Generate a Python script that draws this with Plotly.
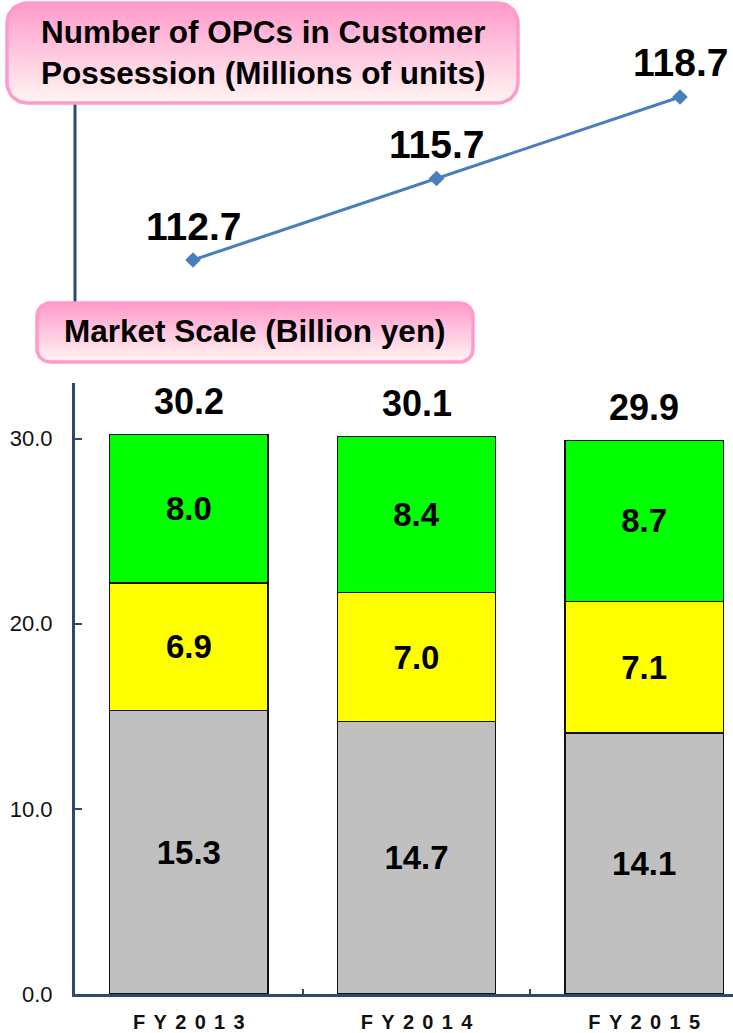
import numpy as np
import plotly.graph_objects as go

# ---- data ----
years = ["FY2013", "FY2014", "FY2015"]
opcs_millions = [112.7, 115.7, 118.7]
seg_gray = [15.3, 14.7, 14.1]
seg_yellow = [6.9, 7.0, 7.1]
seg_green = [8.0, 8.4, 8.7]
y_ticks = [0, 10, 20, 30]

W, H = 733, 1033
FONT = "Liberation Sans, Arial, sans-serif"
NAVY = "#2B4A73"


def px(x):
    return x / W


def py(y):
    return 1 - y / H


def rounded_rect(x0, y0, x1, y1, r, n=14):
    """Closed outline of a rounded rectangle in pixel space (y measured down)."""
    xs, ys = [], []
    corners = [
        (x1 - r, y0 + r, -np.pi / 2, 0),          # top-right
        (x1 - r, y1 - r, 0, np.pi / 2),           # bottom-right
        (x0 + r, y1 - r, np.pi / 2, np.pi),       # bottom-left
        (x0 + r, y0 + r, np.pi, 1.5 * np.pi),     # top-left
    ]
    for cx, cy, a0, a1 in corners:
        t = np.linspace(a0, a1, n)
        xs.extend(cx + r * np.cos(t))
        ys.extend(cy + r * np.sin(t))
    xs.append(xs[0])
    ys.append(ys[0])
    return xs, [H - v for v in ys]


fig = go.Figure()

# ---- pink title boxes (pixel-mapped helper axes) ----
for (x0, y0, x1, y1, r) in [(7, 3, 518, 103, 20), (37, 303, 473, 362, 13)]:
    bx, by = rounded_rect(x0, y0, x1, y1, r)
    fig.add_trace(go.Scatter(
        x=bx, y=by, mode="lines", fill="toself",
        line=dict(color="#FF9ACB", width=3.5),
        fillgradient=dict(type="vertical",
                          colorscale=[[0, "#FFF5F2"], [1, "#FF9ACB"]],
                          start=H - y1, stop=H - y0),
        hoverinfo="skip", xaxis="x3", yaxis="y3",
    ))

# ---- stacked bars: market scale ----
for vals, color in [(seg_gray, "#C0C0C0"), (seg_yellow, "#FFFF00"), (seg_green, "#00FF00")]:
    fig.add_trace(go.Bar(
        x=years, y=vals, marker=dict(color=color, line=dict(color="#111111", width=1.2)),
        width=0.695,
        text=[f"{v:.1f}" for v in vals], textposition="inside",
        insidetextanchor="middle", constraintext="none",
        textfont=dict(family=FONT, size=33, color="black", weight="bold"),
        xaxis="x", yaxis="y", hoverinfo="skip",
    ))

totals = [round(a + b + c, 1) for a, b, c in zip(seg_gray, seg_yellow, seg_green)]
for yr, t in zip(years, totals):
    fig.add_annotation(x=yr, y=t, xref="x", yref="y", text=f"{t:.1f}",
                       showarrow=False, xanchor="center", yanchor="middle", yshift=33,
                       font=dict(family=FONT, size=36, color="black", weight="bold"))

# ---- line: OPCs in customer possession ----
fig.add_trace(go.Scatter(
    x=years, y=opcs_millions, mode="lines+markers",
    line=dict(color="#4A7EBB", width=3),
    marker=dict(symbol="diamond", size=12, color="#4A7EBB"),
    xaxis="x2", yaxis="y2", hoverinfo="skip",
))
for yr, v in zip(years, opcs_millions):
    fig.add_annotation(x=yr, y=v, xref="x2", yref="y2", text=f"{v:.1f}",
                       showarrow=False, xanchor="center", yanchor="middle", yshift=34,
                       font=dict(family=FONT, size=39, color="black", weight="bold"))

# ---- box titles ----
fig.add_annotation(x=px(263), y=py(53), xref="paper", yref="paper",
                   xanchor="center", yanchor="middle",
                   text="Number of OPCs in Customer<br>Possession (Millions of units)",
                   showarrow=False, align="center",
                   font=dict(family=FONT, size=31.5, color="black", weight="bold"))
fig.add_annotation(x=px(255), y=py(331), xref="paper", yref="paper",
                   xanchor="center", yanchor="middle",
                   text="Market Scale (Billion yen)", showarrow=False,
                   font=dict(family=FONT, size=31.5, color="black", weight="bold"))

# connector between the two boxes
fig.add_shape(type="line", xref="paper", yref="paper",
              x0=px(75), x1=px(75), y0=py(104), y1=py(302),
              line=dict(color=NAVY, width=3), layer="below")

# letter-spaced category labels
spaced = ["\u2005\u2006".join(list(y)) for y in years]

fig.update_layout(
    width=W, height=H, margin=dict(l=0, r=0, t=0, b=0, autoexpand=False),
    paper_bgcolor="white", plot_bgcolor="rgba(0,0,0,0)",
    barmode="stack", showlegend=False,
    xaxis=dict(domain=[px(75), 1], range=[-0.5, 2.39], type="category",
               automargin=False,
               showline=True, linecolor=NAVY, linewidth=3,
               ticks="inside", tickson="boundaries", ticklen=5, tickwidth=2, tickcolor=NAVY,
               tickvals=years, ticktext=spaced, ticklabelstandoff=8,
               tickfont=dict(family=FONT, size=20, color="#111111", weight="bold"),
               showgrid=False, zeroline=False, anchor="y"),
    yaxis=dict(domain=[py(994), py(383)], range=[0, 33],
               automargin=False,
               showline=True, linecolor=NAVY, linewidth=3,
               ticks="inside", ticklen=7, tickwidth=2, tickcolor=NAVY,
               tickvals=y_ticks, tickformat=".1f", ticklabelstandoff=15,
               tickfont=dict(family=FONT, size=22, color="#111111"),
               showgrid=False, zeroline=False, anchor="x"),
    xaxis2=dict(domain=[0, 1], range=[-193 / 243.5, (W - 193) / 243.5], type="category",
                visible=False, anchor="y2", automargin=False),
    yaxis2=dict(domain=[py(300), py(60)], range=[111.228, 120.06],
                visible=False, anchor="x2", automargin=False),
    xaxis3=dict(domain=[0, 1], range=[0, W], visible=False, anchor="y3", automargin=False),
    yaxis3=dict(domain=[0, 1], range=[0, H], visible=False, anchor="x3", automargin=False),
)

fig.write_html("out.html")
